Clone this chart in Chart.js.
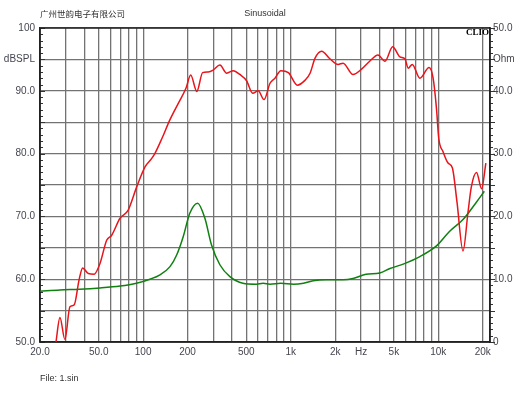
<!DOCTYPE html>
<html>
<head>
<meta charset="utf-8">
<script src="https://cdn.jsdelivr.net/npm/chart.js"></script>
<style>
html,body{margin:0;padding:0;background:#fff;}
#wrap{width:530px;height:398px;position:relative;}
</style>
</head>
<body>
<div id="wrap"><canvas id="c" width="530" height="398"></canvas></div>
<script>
// ---- data ----
const splFreq = [25.6,27.3,29.5,31.9,34.1,36.8,38.9,42.5,46.6,51,56.6,61.2,69.7,79.2,90.4,103,114,120,134,152,173,195,210,231,253,276,298,331,368,408,452,502,552,602,660,724,782,856,964,1108,1252,1352,1462,1620,1842,2094,2264,2642,3006,3428,3900,4352,4906,5492,5938,6252,6656,7500,8660,9220,9716,10072,10770,11640,12460,13380,14700,15900,16740,18160,19660,21000];
const splDb = [49.8,53.9,50.4,55.6,55.9,59.9,61.8,60.9,60.8,62.5,66.2,67.0,69.7,71.0,74.7,77.9,79.2,80.0,82.4,85.4,88.0,90.4,92.5,89.9,92.9,93.0,93.3,94.1,92.8,93.2,92.6,91.6,89.6,90.0,88.6,91.2,92.0,93.2,92.9,90.9,91.7,92.8,95.2,96.3,95.1,94.2,94.4,92.6,93.4,94.7,95.7,94.7,97.0,95.4,95.1,93.6,94.2,92.0,93.7,92.0,87.2,82.4,80.3,78.5,77.7,72.3,64.5,70.7,74.7,77.0,74.4,78.5];
const impFreq = [20,27.3,37,51,69.7,90,111,130,152,169,187,207,234,262,291,331,387,474,584,650,724,856,1046,1220,1421,1750,2264,2642,3240,4010,4700,5780,7500,9716,11900,14700,18160,20500];
const impOhm = [8.1,8.3,8.4,8.6,8.9,9.35,10.0,10.7,12.0,13.9,16.8,20.5,22.1,19.7,15.4,12.3,10.4,9.35,9.2,9.35,9.2,9.35,9.2,9.35,9.75,9.9,9.9,10.1,10.8,11.0,11.7,12.4,13.6,15.3,17.6,19.5,22.3,24.0];

const xTickValues = [20,30,40,50,60,70,80,90,100,200,300,400,500,600,700,800,900,1000,2000,3000,4000,5000,6000,7000,8000,9000,10000,20000];
const xTickLabels = {20:'20.0',50:'50.0',100:'100',200:'200',500:'500',1000:'1k',2000:'2k',3000:'Hz',5000:'5k',10000:'10k',20000:'20k'};
const yLeftLabels = {100:'100',95:'dBSPL',90:'90.0',80:'80.0',70:'70.0',60:'60.0',50:'50.0'};
const yRightLabels = {50:'50.0',45:'Ohm',40:'40.0',30:'30.0',20:'20.0',10:'10.0',0:'0'};

const titleLeft = '广州世韵电子有限公司';
const titleCenter = 'Sinusoidal';
const brand = 'CLIO';
const fileLabel = 'File: 1.sin';

const tickFont = {family:'Arial, "Liberation Sans", sans-serif', size:10};
const textColor = '#454550';
const gridColor = '#737373';

const decor = {
  id:'decor',
  beforeDatasetsDraw(chart){
    const ctx = chart.ctx, a = chart.chartArea;
    const y = chart.scales.y, y2 = chart.scales.y2;
    ctx.save();
    ctx.strokeStyle = '#333';
    ctx.lineWidth = 1;
    for(let v=50; v<=100; v++){
      const py = Math.round(y.getPixelForValue(v))+0.5;
      ctx.beginPath(); ctx.moveTo(a.left, py); ctx.lineTo(a.left + (v%5===0?5:3), py); ctx.stroke();
    }
    for(let v=0; v<=50; v++){
      const py = Math.round(y2.getPixelForValue(v))+0.5;
      ctx.beginPath(); ctx.moveTo(a.right, py); ctx.lineTo(a.right + (v%5===0?5:3), py); ctx.stroke();
    }
    ctx.strokeStyle = '#222';
    ctx.lineWidth = 1.5;
    ctx.strokeRect(a.left, a.top, a.right-a.left, a.bottom-a.top);
    ctx.restore();
  },
  afterDraw(chart){
    const ctx = chart.ctx, a = chart.chartArea;
    ctx.save();
    ctx.fillStyle = '#333';
    ctx.textBaseline = 'middle';
    ctx.font = '8.5px "Noto Sans CJK SC", sans-serif';
    ctx.textAlign = 'left';
    ctx.fillText(titleLeft, 40, 14);
    ctx.font = '9px Arial, "Liberation Sans", sans-serif';
    ctx.textAlign = 'center';
    ctx.fillText(titleCenter, 265, 14);
    ctx.textAlign = 'left';
    ctx.fillText(fileLabel, 40, 379);
    ctx.fillStyle = '#000';
    ctx.font = 'bold 9px "Liberation Serif", "DejaVu Serif", serif';
    ctx.textAlign = 'right';
    ctx.fillText(brand, a.right - 1, a.top + 5);
    ctx.restore();
  }
};

new Chart(document.getElementById('c'), {
  type:'line',
  data:{
    datasets:[
      {data: splFreq.map((f,i)=>({x:f,y:splDb[i]})), yAxisID:'y', borderColor:'#e8141a', borderWidth:1.5, pointRadius:0, cubicInterpolationMode:'monotone', fill:false},
      {data: impFreq.map((f,i)=>({x:f,y:impOhm[i]})), yAxisID:'y2', borderColor:'#108010', borderWidth:1.5, pointRadius:0, cubicInterpolationMode:'monotone', fill:false}
    ]
  },
  options:{
    responsive:false,
    animation:false,
    layout:{padding:{top:28,left:0,right:0,bottom:0}},
    plugins:{legend:{display:false},tooltip:{enabled:false}},
    scales:{
      x:{
        type:'logarithmic', min:20, max:22400, position:'bottom',
        afterBuildTicks:(s)=>{ s.ticks = xTickValues.map(v=>({value:v})); },
        afterFit:(s)=>{ s.height = 56; },
        ticks:{autoSkip:false, maxRotation:0, minRotation:0, padding:4, color:textColor, font:tickFont,
          callback:(v)=> (xTickLabels[v] !== undefined ? xTickLabels[v] : '')},
        grid:{color:gridColor, lineWidth:1.3, drawTicks:false},
        border:{display:true, color:'#222', width:1.5}
      },
      y:{
        position:'left', min:50, max:100,
        afterBuildTicks:(s)=>{ const t=[]; for(let v=50; v<=100; v+=5) t.push({value:v}); s.ticks=t; },
        afterFit:(s)=>{ s.width = 40; },
        ticks:{padding:5, color:textColor, font:tickFont,
          callback:(v)=> (yLeftLabels[v] !== undefined ? yLeftLabels[v] : '')},
        grid:{color:gridColor, lineWidth:1.3, drawTicks:false},
        border:{display:true, color:'#222', width:1.5}
      },
      y2:{
        position:'right', min:0, max:50,
        afterBuildTicks:(s)=>{ const t=[]; for(let v=0; v<=50; v+=5) t.push({value:v}); s.ticks=t; },
        afterFit:(s)=>{ s.width = 40; },
        ticks:{padding:3, color:textColor, font:tickFont,
          callback:(v)=> (yRightLabels[v] !== undefined ? yRightLabels[v] : '')},
        grid:{drawOnChartArea:false, drawTicks:false},
        border:{display:true, color:'#222', width:1.5}
      }
    }
  },
  plugins:[decor]
});
</script>
</body>
</html>
